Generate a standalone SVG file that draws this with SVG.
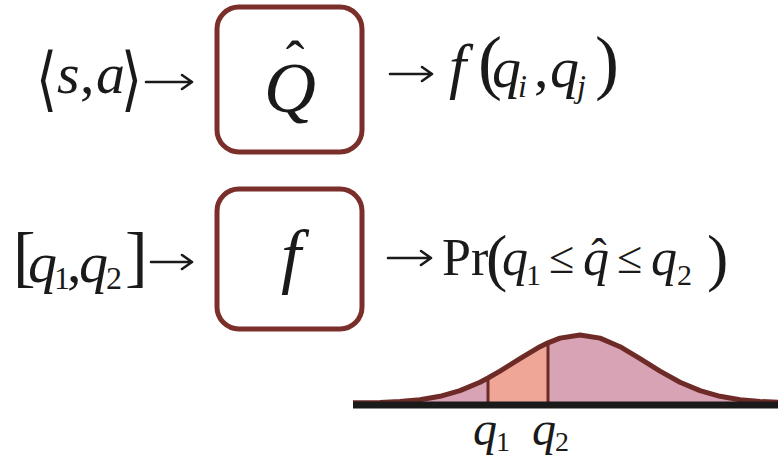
<svg xmlns="http://www.w3.org/2000/svg" width="778" height="457" viewBox="0 0 778 457">
<style>
.t{font-family:"Liberation Serif","DejaVu Serif",serif;fill:#1a1a1a}
.i{font-style:italic}
.br{font-family:"DejaVu Serif","Liberation Serif",serif;fill:#1a1a1a}
.box{fill:none;stroke:#7a2f2b;stroke-width:5}
.arr{stroke:#1a1a1a;stroke-width:2.6;fill:none;stroke-linecap:round;stroke-linejoin:round}
.curve{stroke:#6e2a26;stroke-width:5;fill:none}
</style>
<rect width="778" height="457" fill="#fff"/>

<g id="row1-input">
<text class="br" font-size="54" transform="translate(36,103) scale(1,1.3)">⟨</text>
<text class="t i" x="57" y="93" font-size="58">s</text>
<text class="t" x="80" y="93" font-size="58">,</text>
<text class="t i" x="96" y="93" font-size="58">a</text>
<text class="br" font-size="54" transform="translate(121,103) scale(1,1.3)">⟩</text>
</g>

<g id="node-Qhat">
<rect class="box" x="217" y="7" width="145" height="145" rx="22"/>
<text class="t i" x="290" y="112" font-size="72" text-anchor="middle">Q</text>
<text class="t" x="295" y="80" font-size="56" text-anchor="middle">ˆ</text>
</g>

<g id="row1-output">
<text class="t i" x="449" y="87" font-size="62">f</text>
<text class="t" x="478" y="86" font-size="72">(</text>
<text class="t i" x="492" y="87" font-size="58">q</text>
<text class="t i" x="518" y="97" font-size="32">i</text>
<text class="t" x="534" y="87" font-size="58">,</text>
<text class="t i" x="550" y="87" font-size="58">q</text>
<text class="t i" x="577" y="97" font-size="32">j</text>
<text class="t" x="595" y="86" font-size="72">)</text>
</g>

<g id="row2-input">
<text class="t" x="13" y="279" font-size="68">[</text>
<text class="t i" x="28" y="282" font-size="58">q</text>
<text class="t" x="54" y="289" font-size="32">1</text>
<text class="t" x="67" y="282" font-size="58">,</text>
<text class="t i" x="79" y="282" font-size="58">q</text>
<text class="t" x="106" y="289" font-size="32">2</text>
<text class="t" x="125" y="279" font-size="68">]</text>
</g>

<g id="node-f">
<rect class="box" x="217" y="189" width="145" height="140" rx="22"/>
<text class="t i" x="291" y="280" font-size="72" text-anchor="middle">f</text>
</g>

<g id="row2-output">
<text class="t" x="442" y="275" font-size="52">Pr</text>
<text class="t" x="486" y="279" font-size="64">(</text>
<text class="t i" x="502" y="275" font-size="52">q</text>
<text class="t" x="526" y="285" font-size="30">1</text>
<text class="t" x="549" y="273" font-size="46">≤</text>
<text class="t i" x="583" y="275" font-size="52">q</text>
<text class="t" x="599" y="271" font-size="46" text-anchor="middle">ˆ</text>
<text class="t" x="617" y="273" font-size="46">≤</text>
<text class="t i" x="651" y="275" font-size="52">q</text>
<text class="t" x="677" y="285" font-size="30">2</text>
<text class="t" x="707" y="279" font-size="64">)</text>
</g>

<g id="connectors">
<path class="arr" d="M146 82H192M182 75L192 82L182 89"/>
<path class="arr" d="M390 74H432M422 67L432 74L422 81"/>
<path class="arr" d="M151 262H192M182 255L192 262L182 269"/>
<path class="arr" d="M388 258H431M421 251L431 258L421 265"/>
</g>

<g id="distribution">
<path fill="#d8a3b5" d="M353 402.8L380 402.4L400 401.5L420 399.7L440 396.3L460 390.6L480 382.2L488 378V405H353Z"/>
<path fill="#efa696" d="M488 378L500 371.1L520 358.6L540 346.7L548 342.8V405H488Z"/>
<path fill="#d8a3b5" d="M548 342.8L560 338.1L580 335L600 338.1L620 346.7L640 358.6L660 371.1L680 382.2L700 390.6L720 396.3L740 399.7L760 401.5L778 402.3V405H548Z"/>
<path class="curve" d="M353 402.8L380 402.4L400 401.5L420 399.7L440 396.3L460 390.6L480 382.2L488 378L500 371.1L520 358.6L540 346.7L548 342.8L560 338.1L580 335L600 338.1L620 346.7L640 358.6L660 371.1L680 382.2L700 390.6L720 396.3L740 399.7L760 401.5L778 402.3" stroke-linejoin="round"/>
<line x1="488" y1="378" x2="488" y2="405" stroke="#6e2a26" stroke-width="3"/>
<line x1="548" y1="342" x2="548" y2="405" stroke="#6e2a26" stroke-width="3"/>
<line x1="353" y1="405" x2="778" y2="405" stroke="#1a1a1a" stroke-width="7"/>
<text class="t i" x="473" y="445" font-size="48">q</text>
<text class="t" x="496" y="451" font-size="28">1</text>
<text class="t i" x="532" y="445" font-size="48">q</text>
<text class="t" x="555" y="451" font-size="28">2</text>
</g>
</svg>
